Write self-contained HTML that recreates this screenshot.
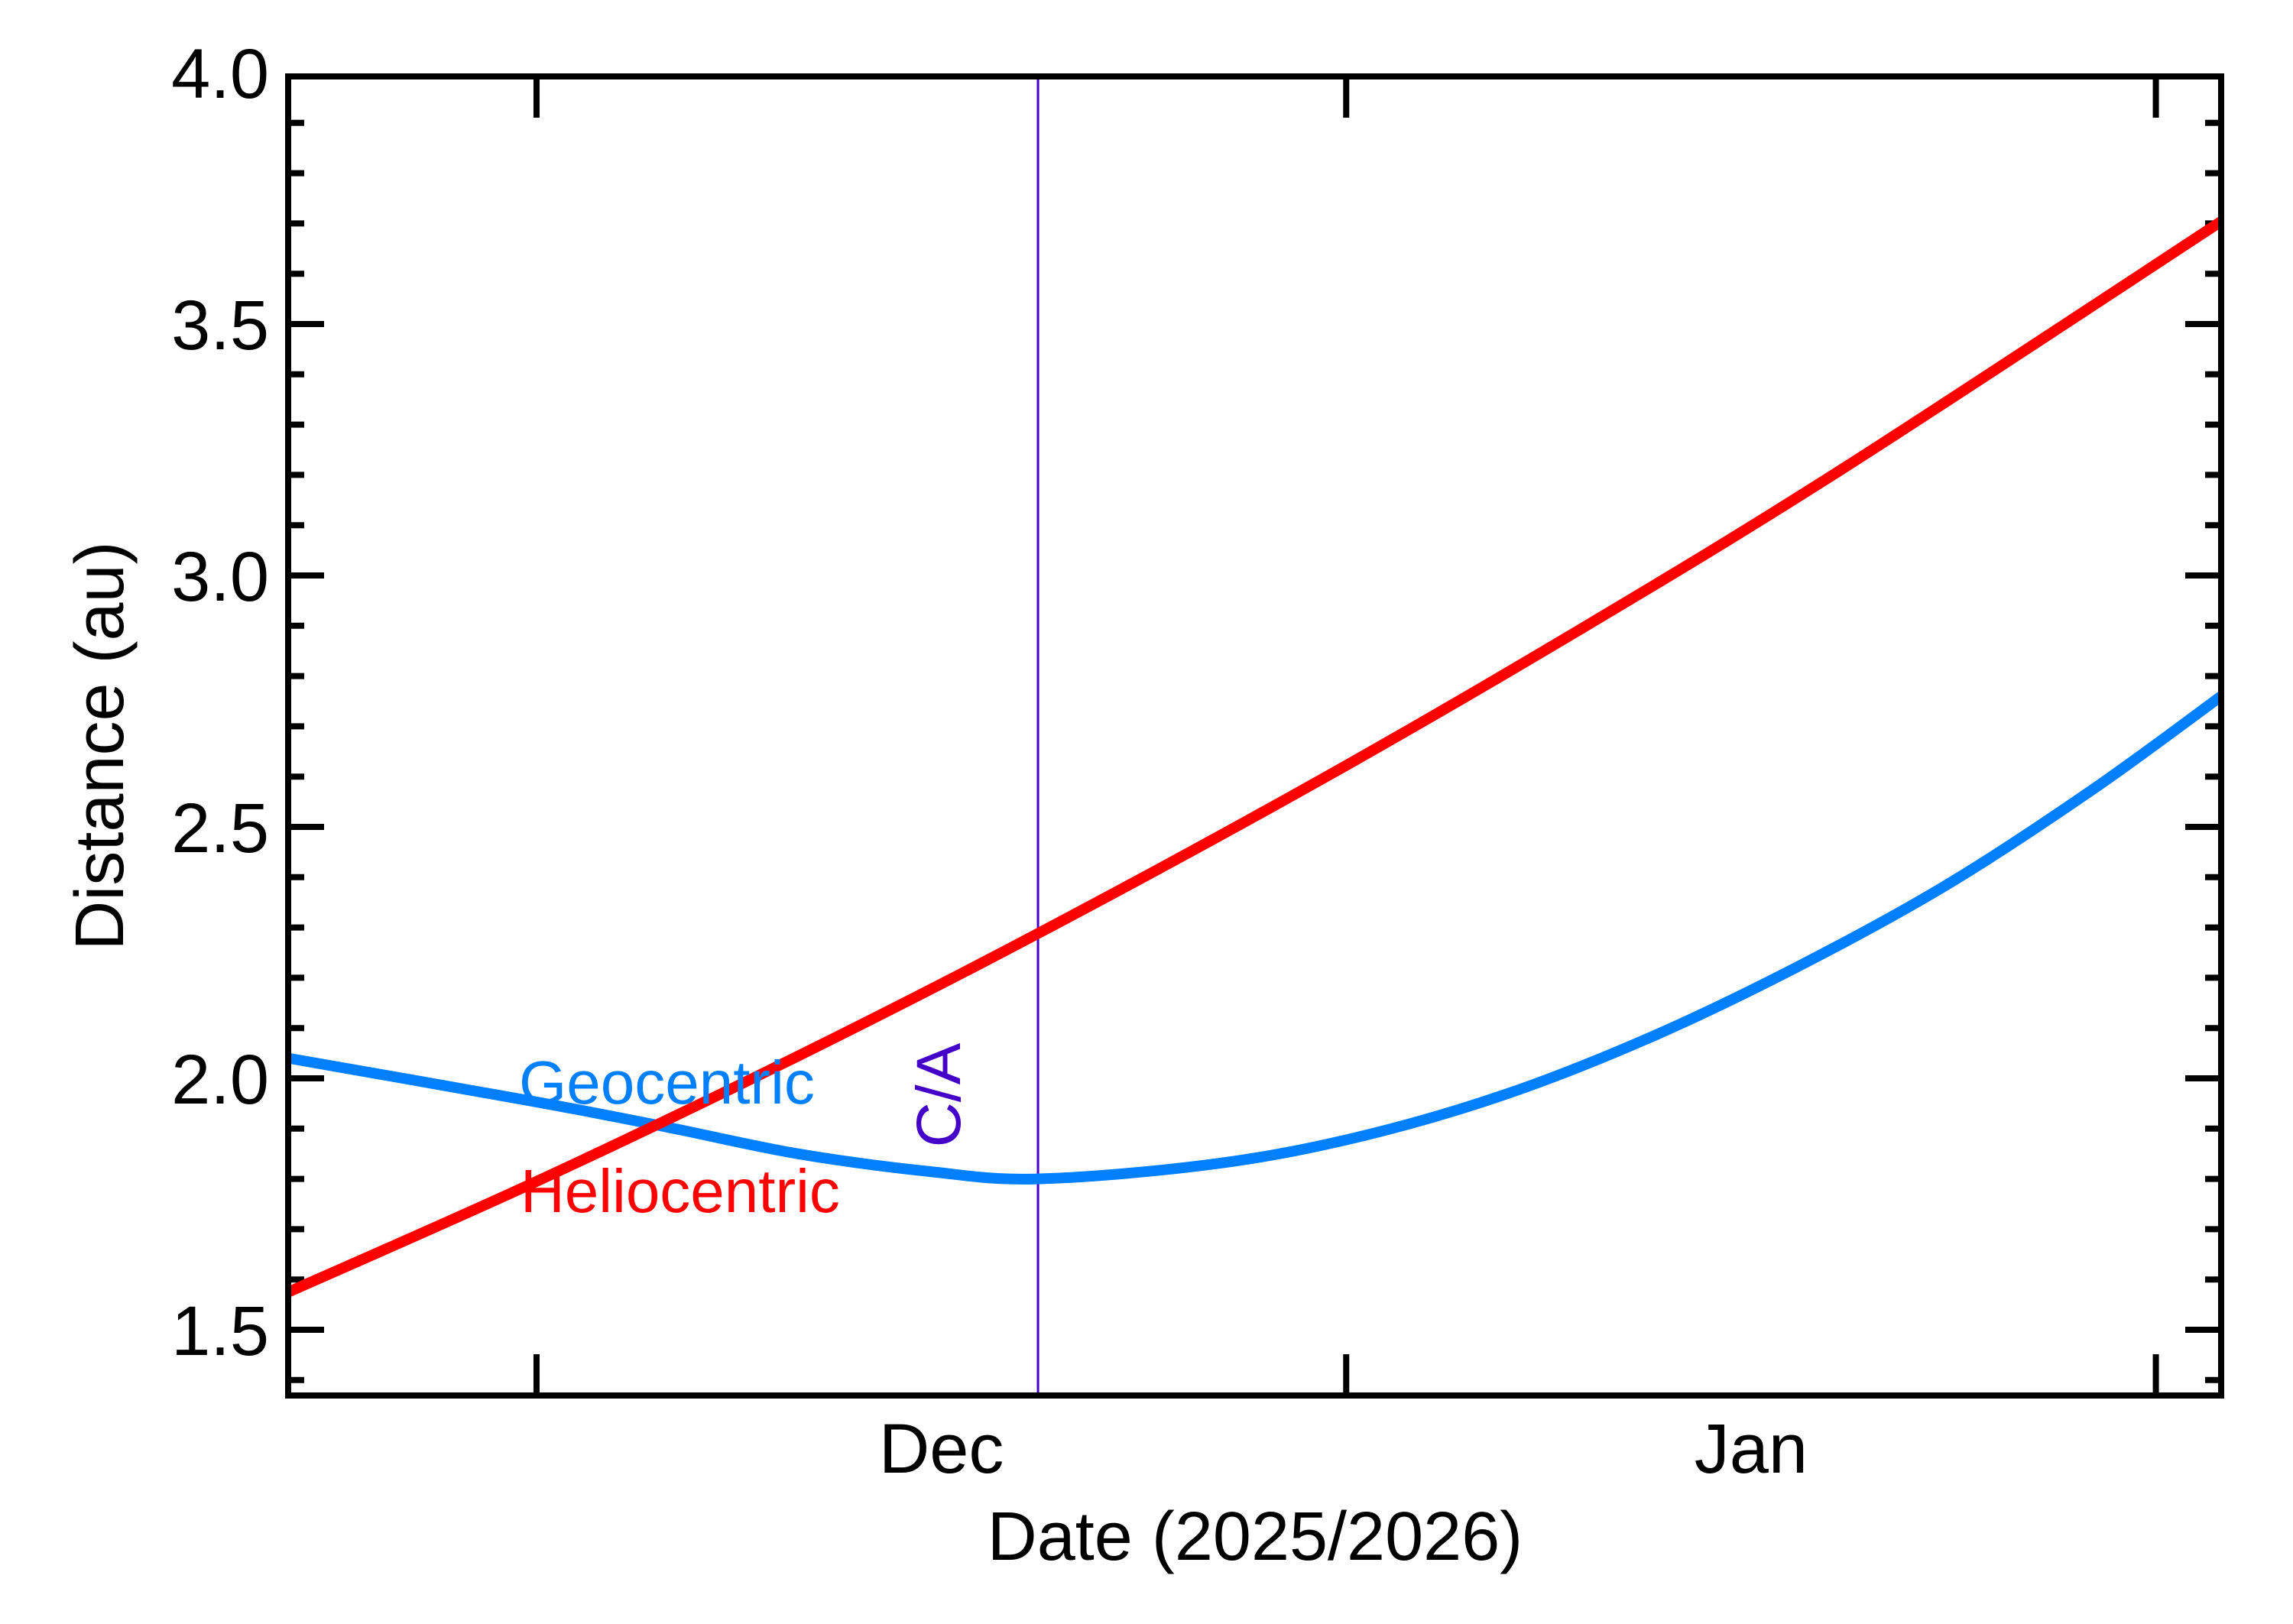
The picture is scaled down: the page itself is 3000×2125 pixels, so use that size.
<!DOCTYPE html>
<html><head><meta charset="utf-8">
<style>
html,body{margin:0;padding:0;background:#fff;}
svg{display:block;}
text{font-family:"Liberation Sans",sans-serif;}
</style></head>
<body>
<svg id="chart" width="3000" height="2125" viewBox="0 0 3000 2125" xmlns="http://www.w3.org/2000/svg">
<g id="ticks"></g>
<g id="series"></g>
<g id="labels"></g>
<rect x="377" y="100" width="2529" height="1726" fill="none" stroke="#000" stroke-width="8"/>
<text x="0" y="0" font-size="90" text-anchor="middle" transform="translate(161,976) rotate(-90)">Distance (au)</text>
<text x="1642" y="2041" font-size="90" text-anchor="middle">Date (2025/2026)</text>
<text x="679" y="1444" font-size="80" fill="#0080ff">Geocentric</text>
<text x="681" y="1586" font-size="80" fill="#ff0000">Heliocentric</text>
</svg>
<script>
const helioDays = [-9.5, 0, 10, 19.2, 30, 40, 50, 64.5];
const helioValues = [1.575, 1.795, 2.044, 2.288, 2.593, 2.894, 3.212, 3.704];
const geoDays = [-9.5, 0, 5, 10, 15, 19.2, 26, 31.6, 37.2, 42.8, 48.4, 54, 59.6, 64.5];
const geoValues = [2.04, 1.953, 1.903, 1.85, 1.815, 1.80, 1.83, 1.885, 1.97, 2.085, 2.225, 2.385, 2.575, 2.76];
const caDay = 19.2;
const yTickValues = [1.5, 2.0, 2.5, 3.0, 3.5, 4.0];
const yTickLabels = ["1.5", "2.0", "2.5", "3.0", "3.5", "4.0"];
const monthDays = [0, 31, 62];
const monthLabels = ["Dec", "Jan"];

const X0 = 377, X1 = 2906, Y0 = 100, Y1 = 1826;
const dMin = -9.51, dMax = 64.5;
function xs(d){ return X0 + (d - dMin) / (dMax - dMin) * (X1 - X0); }
function ys(v){ return 1740 - (v - 1.5) * 658; }
const NS = "http://www.w3.org/2000/svg";
function mk(tag, attrs, parent){
  const e = document.createElementNS(NS, tag);
  for (const k in attrs) e.setAttribute(k, attrs[k]);
  parent.appendChild(e); return e;
}
const ticks = document.getElementById('ticks');
const labels = document.getElementById('labels');
const series = document.getElementById('series');

for (let i = 14; i <= 40; i++) {
  const v = i / 10;
  const y = ys(v);
  if (y < Y0 || y > Y1) continue;
  const major = (i % 5 === 0);
  const len = major ? 47 : 21;
  const l1 = mk('line', {x1: X0, x2: X0 + len, y1: y, y2: y, stroke: '#000', 'stroke-width': 8}, ticks);
  
  
  const l2 = mk('line', {x1: X1, x2: X1 - len, y1: y, y2: y, stroke: '#000', 'stroke-width': 8}, ticks);
  
  
}
yTickValues.forEach((v, i) => {
  const t = mk('text', {x: 352, y: ys(v) + 33, 'font-size': 92, 'text-anchor': 'end'}, labels);
  t.textContent = yTickLabels[i];
  
  
});
monthDays.forEach(d => {
  const x = xs(d);
  const a = mk('line', {x1: x, x2: x, y1: Y1, y2: Y1 - 54, stroke: '#000', 'stroke-width': 8}, ticks);
  
  
  const b = mk('line', {x1: x, x2: x, y1: Y0, y2: Y0 + 54, stroke: '#000', 'stroke-width': 8}, ticks);
  
  
});
monthLabels.forEach((m, i) => {
  const mid = (monthDays[i] + monthDays[i + 1]) / 2;
  const t = mk('text', {x: xs(mid), y: 1927, 'font-size': 92, 'text-anchor': 'middle'}, labels);
  t.textContent = m;
  
  
});

function smoothPath(xsArr, vals){
  const p = xsArr.map((d, i) => [xs(d), ys(vals[i])]);
  let s = 'M' + p[0][0] + ',' + p[0][1];
  for (let i = 0; i < p.length - 1; i++) {
    const p0 = p[i - 1] || p[i], p1 = p[i], p2 = p[i + 1], p3 = p[i + 2] || p2;
    const c1 = [p1[0] + (p2[0] - p0[0]) / 6, p1[1] + (p2[1] - p0[1]) / 6];
    const c2 = [p2[0] - (p3[0] - p1[0]) / 6, p2[1] - (p3[1] - p1[1]) / 6];
    s += ' C' + c1[0] + ',' + c1[1] + ' ' + c2[0] + ',' + c2[1] + ' ' + p2[0] + ',' + p2[1];
  }
  return s;
}
const ca = mk('line', {x1: xs(caDay), x2: xs(caDay), y1: Y0, y2: Y1, stroke: '#4400c8', 'stroke-width': 3}, series);


const geo = mk('path', {d: smoothPath(geoDays, geoValues), fill: 'none', stroke: '#0080ff', 'stroke-width': 14}, series);


const helio = mk('path', {d: smoothPath(helioDays, helioValues), fill: 'none', stroke: '#ff0000', 'stroke-width': 14}, series);


const cat = mk('text', {x: 0, y: 0, 'font-size': 82, 'text-anchor': 'middle', fill: '#4400c8', transform: 'translate(' + (xs(caDay) - 102) + ',1433) rotate(-90)'}, series);
cat.textContent = 'C/A';


</script>
</body></html>
